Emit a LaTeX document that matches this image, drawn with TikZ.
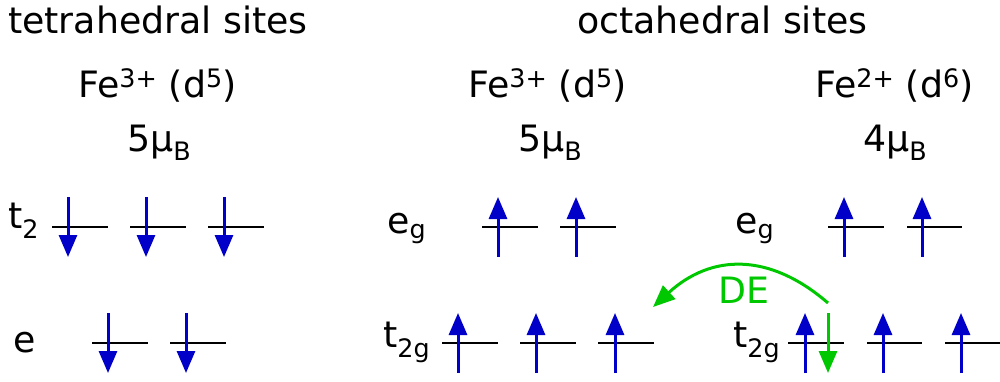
\documentclass[tikz,border=0pt]{standalone}
\usepackage{fontspec}
\setmainfont{DejaVu Sans}
\usetikzlibrary{arrows.meta}
\definecolor{spinblue}{RGB}{0,0,200}
\definecolor{degreen}{RGB}{0,200,0}
\begin{document}
\begin{tikzpicture}[x=1pt,y=-1pt,
  txt/.style={anchor=base west,inner sep=0pt,font=\fontsize{36.3}{40}\selectfont},
  level/.style={line width=2.2pt,black},
  spin/.style={line width=3pt,spinblue,-{Triangle[length=22pt,width=18pt]}},
  despin/.style={line width=3pt,degreen,-{Triangle[length=22pt,width=18pt]}},
  hop/.style={line width=3pt,degreen,-{Triangle[length=22pt,width=18pt]}}]
\useasboundingbox (0,0) rectangle (1000,381);
% headings
\node[txt] (tet) at (8,33) {tetrahedral sites};
\node[txt] (oct) at (577,33) {octahedral sites};
\node[txt] (ionA) at (78,97) {Fe\textsuperscript{3+} (d\textsuperscript{5})};
\node[txt] (ionB) at (468,97) {Fe\textsuperscript{3+} (d\textsuperscript{5})};
\node[txt] (ionC) at (815,97) {Fe\textsuperscript{2+} (d\textsuperscript{6})};
\node[txt] (momA) at (127,151) {5μ\textsubscript{B}};
\node[txt] (momB) at (518,151) {5μ\textsubscript{B}};
\node[txt] (momC) at (863,151) {4μ\textsubscript{B}};
% level labels
\node[txt] (lt2) at (8,228) {t\textsubscript{2}};
\node[txt] (le) at (13,352) {e};
\node[txt] (leg1) at (387,233) {e\textsubscript{g}};
\node[txt] (lt2g1) at (383,347) {t\textsubscript{2g}};
\node[txt] (leg2) at (735,233) {e\textsubscript{g}};
\node[txt] (lt2g2) at (733,347) {t\textsubscript{2g}};
\node[txt,text=degreen] (de) at (718,303) {DE};
% levels
\foreach \a/\b/\y [count=\i] in {52/108/227,130/186/227,208/264/227,92/148/343,170/226/343,
  482/538/227,560/616/227,442/498/343,520/576/343,598/654/343,
  828/884/227,907/962/227,788/844/343,867/922/343,945/1000/343}{
  \coordinate (L\i a) at (\a,\y);
  \coordinate (L\i b) at (\b,\y);
  \draw[level] (L\i a) -- (L\i b);
}
% spin-down arrows (tetrahedral)
\foreach \x/\t [count=\i] in {68/197,146/197,224/197,108/313,186/313}{
  \coordinate (D\i s) at (\x,\t);
  \coordinate (D\i e) at (\x,\t+60);
  \draw[spin] (D\i s) -- (D\i e);
}
% spin-up arrows (octahedral)
\foreach \x/\t [count=\i] in {498/197,576/197,458/313,536/313,615/313,844/197,922/197,805/313,883/313,961/313}{
  \coordinate (U\i s) at (\x,\t+60);
  \coordinate (U\i e) at (\x,\t);
  \draw[spin] (U\i s) -- (U\i e);
}
% extra electron and double exchange hop
\coordinate (G s) at (828,313);
\coordinate (G e) at (828,373);
\draw[despin] (G s) -- (G e);
\coordinate (H s) at (828,303);
\coordinate (H e) at (653,307);
\draw[hop] (H s) .. controls (769,252) and (711,254) .. (H e);
\end{tikzpicture}
\end{document}
